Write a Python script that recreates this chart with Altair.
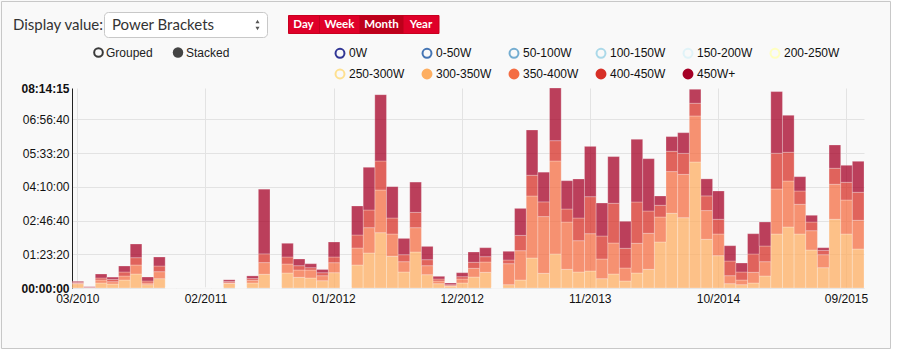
import altair as alt
import pandas as pd

# ---------------- data ----------------
months = [d.strftime("%m/%Y") for d in pd.date_range("2010-03-01", "2015-10-01", freq="MS")]
tick_months = ["03/2010", "02/2011", "01/2012", "12/2012", "11/2013", "10/2014", "09/2015"]

brackets = ["0W", "0-50W", "50-100W", "100-150W", "150-200W", "200-250W",
            "250-300W", "300-350W", "350-400W", "400-450W", "450W+"]
bracket_colors = ["#313695", "#4575b4", "#74add1", "#abd9e9", "#e0f3f8", "#ffffbf",
                  "#fee090", "#fdae61", "#f46d43", "#d73027", "#a50026"]
hollow = [True] * 7 + [False] * 4

# seconds per month in each bracket
s300 = [638, 44, 742, 593, 1186, 2076, 489, 1379,
        0, 0, 0, 0, 0,
        697, 0, 742, 2032, 0, 2225, 1587, 1483, 1083, 2269, 0,
        3411, 5191, 8201, 4701, 2373, 5339, 1972, 638, 297, 742, 1631, 2328, 0,
        489, 1186, 4449, 2180, 5042, 2773, 2373, 2521, 1379, 2076, 1038, 2225, 2773,
        6822, 11078, 10425, 18686, 7222, 4790, 638, 489, 742, 1780,
        8008, 9046, 8008, 5635, 3010, 10188, 8008, 5784]
s350 = [59, 0, 445, 341, 593, 1335, 252, 1038,
        0, 0, 0, 0, 0,
        74, 0, 400, 1735, 0, 1335, 1083, 1186, 742, 1483, 0,
        2521, 3752, 6332, 3307, 1527, 3604, 1335, 400, 44, 593, 1290, 1527, 0,
        3114, 4345, 9195, 8409, 13792, 7015, 4642, 5532, 2921, 4597, 1928, 4405, 5339,
        3708, 6184, 6421, 6822, 4256, 3218, 1186, 697, 1587, 2121,
        6674, 6822, 4405, 2862, 1928, 5191, 5042, 4256]
s400 = [148, 44, 297, 341, 593, 1083, 297, 845,
        0, 0, 0, 0, 0,
        193, 0, 252, 1290, 0, 1038, 638, 341, 445, 845, 0,
        1928, 2625, 4301, 2373, 1038, 2269, 890, 297, 148, 341, 890, 786, 0,
        549, 2269, 3070, 2180, 3010, 1928, 3366, 5487, 3411, 5888, 2921, 6125, 3307,
        1735, 3010, 3114, 1883, 2180, 2180, 2180, 1186, 2714, 2328,
        5294, 4256, 1972, 1290, 638, 2373, 2625, 4152]
s450 = [148, 104, 593, 341, 890, 2032, 593, 1335,
        0, 0, 0, 0, 0,
        252, 0, 400, 9595, 0, 2032, 994, 593, 489, 2225, 0,
        4301, 6332, 9832, 4642, 2417, 4493, 1972, 400, 252, 593, 1527, 1335, 0,
        1290, 4004, 6718, 4405, 7811, 4197, 5784, 7459, 4894, 6926, 4004, 9298, 7756,
        1379, 2180, 3070, 2076, 2521, 4197, 2269, 1335, 3010, 3559,
        9150, 5487, 2121, 994, 400, 3455, 2521, 4597]

y_max = 29655
y_ticks = [0, 5000, 10000, 15000, 20000, 25000, 29655]

series = {"300-350W": s300, "350-400W": s350, "400-450W": s400, "450W+": s450}
rows = []
for name, vals in series.items():
    for m, v in zip(months, vals):
        rows.append({"month": m, "bracket": name, "sec": v, "ord": brackets.index(name)})
df = pd.DataFrame(rows)
legend_df = pd.DataFrame({"bracket": brackets})

# ---------------- layout constants ----------------
OX, OY = 72, 88          # plot origin inside the canvas
W, H = 792, 200
FONT = "Liberation Sans"
GRID = "#e3e3e3"

data_colors = [c for b, c in zip(brackets, bracket_colors) if b in series]
data_names = list(series.keys())

bars = alt.Chart(df).mark_bar(fillOpacity=0.75, stroke="white", strokeOpacity=0.25,
                              strokeWidth=1).encode(
    x=alt.X("month:N", sort=months,
            scale=alt.Scale(domain=months, paddingInner=0, paddingOuter=0),
            axis=alt.Axis(values=tick_months, title=None, ticks=False, domain=False,
                          grid=True, gridColor=GRID, labelAngle=0, labelFont=FONT,
                          labelFontSize=12, labelColor="#111", labelPadding=5,
                          bandPosition=0.5)),
    y=alt.Y("sec:Q", stack="zero",
            scale=alt.Scale(domain=[0, y_max], nice=False),
            axis=alt.Axis(values=y_ticks, title=None, ticks=False, domain=True,
                          domainColor="#222", grid=True, gridColor=GRID,
                          gridOpacity={"condition": {"test": "datum.value > 29000", "value": 0},
                                       "value": 1},
                          labelExpr="utcFormat(datum.value * 1000, '%H:%M:%S')",
                          labelFontWeight={"condition": {"test": "datum.value == 0 || datum.value > 29000",
                                                         "value": "bold"}, "value": "normal"},
                          labelFont=FONT, labelFontSize=12, labelColor="#111", labelPadding=3)),
    fill=alt.Fill("bracket:N", scale=alt.Scale(domain=data_names, range=data_colors), legend=None),
    order=alt.Order("ord:Q", sort="ascending"),
)

leg = alt.Legend(title=None, orient="none", legendX=262, legendY=-41, columns=6,
                 direction="horizontal", symbolType="circle", symbolSize=80,
                 symbolStrokeWidth=2, symbolOpacity=1, labelFont=FONT, labelFontSize=12,
                 labelColor="#111", labelOffset=3, columnPadding=13, rowPadding=3)

fill_range = ["transparent" if h else c for h, c in zip(hollow, bracket_colors)]
legend_layer = alt.Chart(legend_df).mark_point(filled=True, size=80).encode(
    x=alt.value(0), y=alt.value(0), opacity=alt.value(0),
    fill=alt.Fill("bracket:N", sort=brackets,
                  scale=alt.Scale(domain=brackets, range=fill_range), legend=leg),
    stroke=alt.Stroke("bracket:N", sort=brackets,
                      scale=alt.Scale(domain=brackets, range=bracket_colors), legend=leg),
)

# ---------------- decorative page controls ----------------
one = pd.DataFrame({"k": [0]})


def px(x):
    return alt.value(x - OX)


def py(y):
    return alt.value(y - OY)


def rect(x1, x2, y1, y2, **kw):
    return alt.Chart(one).mark_rect(**kw).encode(x=px(x1), x2=px(x2), y=py(y1), y2=py(y2))


def text(x, y, s, **kw):
    return alt.Chart(one).mark_text(baseline="middle", **kw).encode(
        x=px(x), y=py(y), text=alt.value(s))


def point(x, y, **kw):
    return alt.Chart(one).mark_point(**kw).encode(x=px(x), y=py(y))


decor = [
    rect(890.5, 897, 0, 351, fill="white"),
    rect(0, 897, 348.5, 351, fill="white"),
    rect(1.5, 890.5, 1.5, 348.5, fill="white", fillOpacity=0, stroke="#c8c8c8", strokeWidth=1),
    text(13, 24.5, "Display value:", align="left", font="Lato", fontSize=15, color="#333"),
    rect(104.5, 267.5, 12.5, 37.5, fill="white", stroke="#c8c8c8", strokeWidth=1, cornerRadius=4),
    text(112, 25, "Power Brackets", align="left", font="Lato", fontSize=15, color="#333"),
    point(257.5, 21.5, shape="triangle-up", filled=True, size=16, color="#555", opacity=1),
    point(257.5, 28.5, shape="triangle-down", filled=True, size=16, color="#555", opacity=1),
    rect(288.5, 439, 15.5, 33.5, fill="#df0029", stroke="#c9001f", strokeWidth=1),
    rect(359.5, 403.5, 15.5, 33.5, fill="#bd001b"),
    alt.Chart(one).mark_rule(color="#c4001f", strokeWidth=1).encode(
        x=px(319.5), y=py(16), y2=py(33)),
    text(303.5, 25, "Day", align="center", font="Lato", fontSize=11.5, fontWeight="bold", color="white"),
    text(339.5, 25, "Week", align="center", font="Lato", fontSize=11.5, fontWeight="bold", color="white"),
    text(381.5, 25, "Month", align="center", font="Lato", fontSize=11.5, fontWeight="bold", color="white"),
    text(421, 25, "Year", align="center", font="Lato", fontSize=11.5, fontWeight="bold", color="white"),
    point(98.5, 52.5, shape="circle", filled=False, size=75, color="#3a3a3a", strokeWidth=2, opacity=1),
    text(106, 52.5, "Grouped", align="left", font=FONT, fontSize=12, color="#222"),
    point(178, 52.5, shape="circle", filled=True, size=110, color="#444", opacity=1),
    text(186, 52.5, "Stacked", align="left", font=FONT, fontSize=12, color="#222"),
]

chart = alt.layer(bars, legend_layer, *decor).resolve_scale(
    fill="independent", stroke="independent"
).properties(
    width=W, height=H,
    padding={"left": OX, "top": OY, "right": 897 - OX - W, "bottom": 351 - OY - H},
    autosize=alt.AutoSizeParams(type="none"),
    background="#f9f9f9",
).configure_view(stroke=None)

chart.save("out.html", embed_options={"renderer": "svg", "actions": False})
